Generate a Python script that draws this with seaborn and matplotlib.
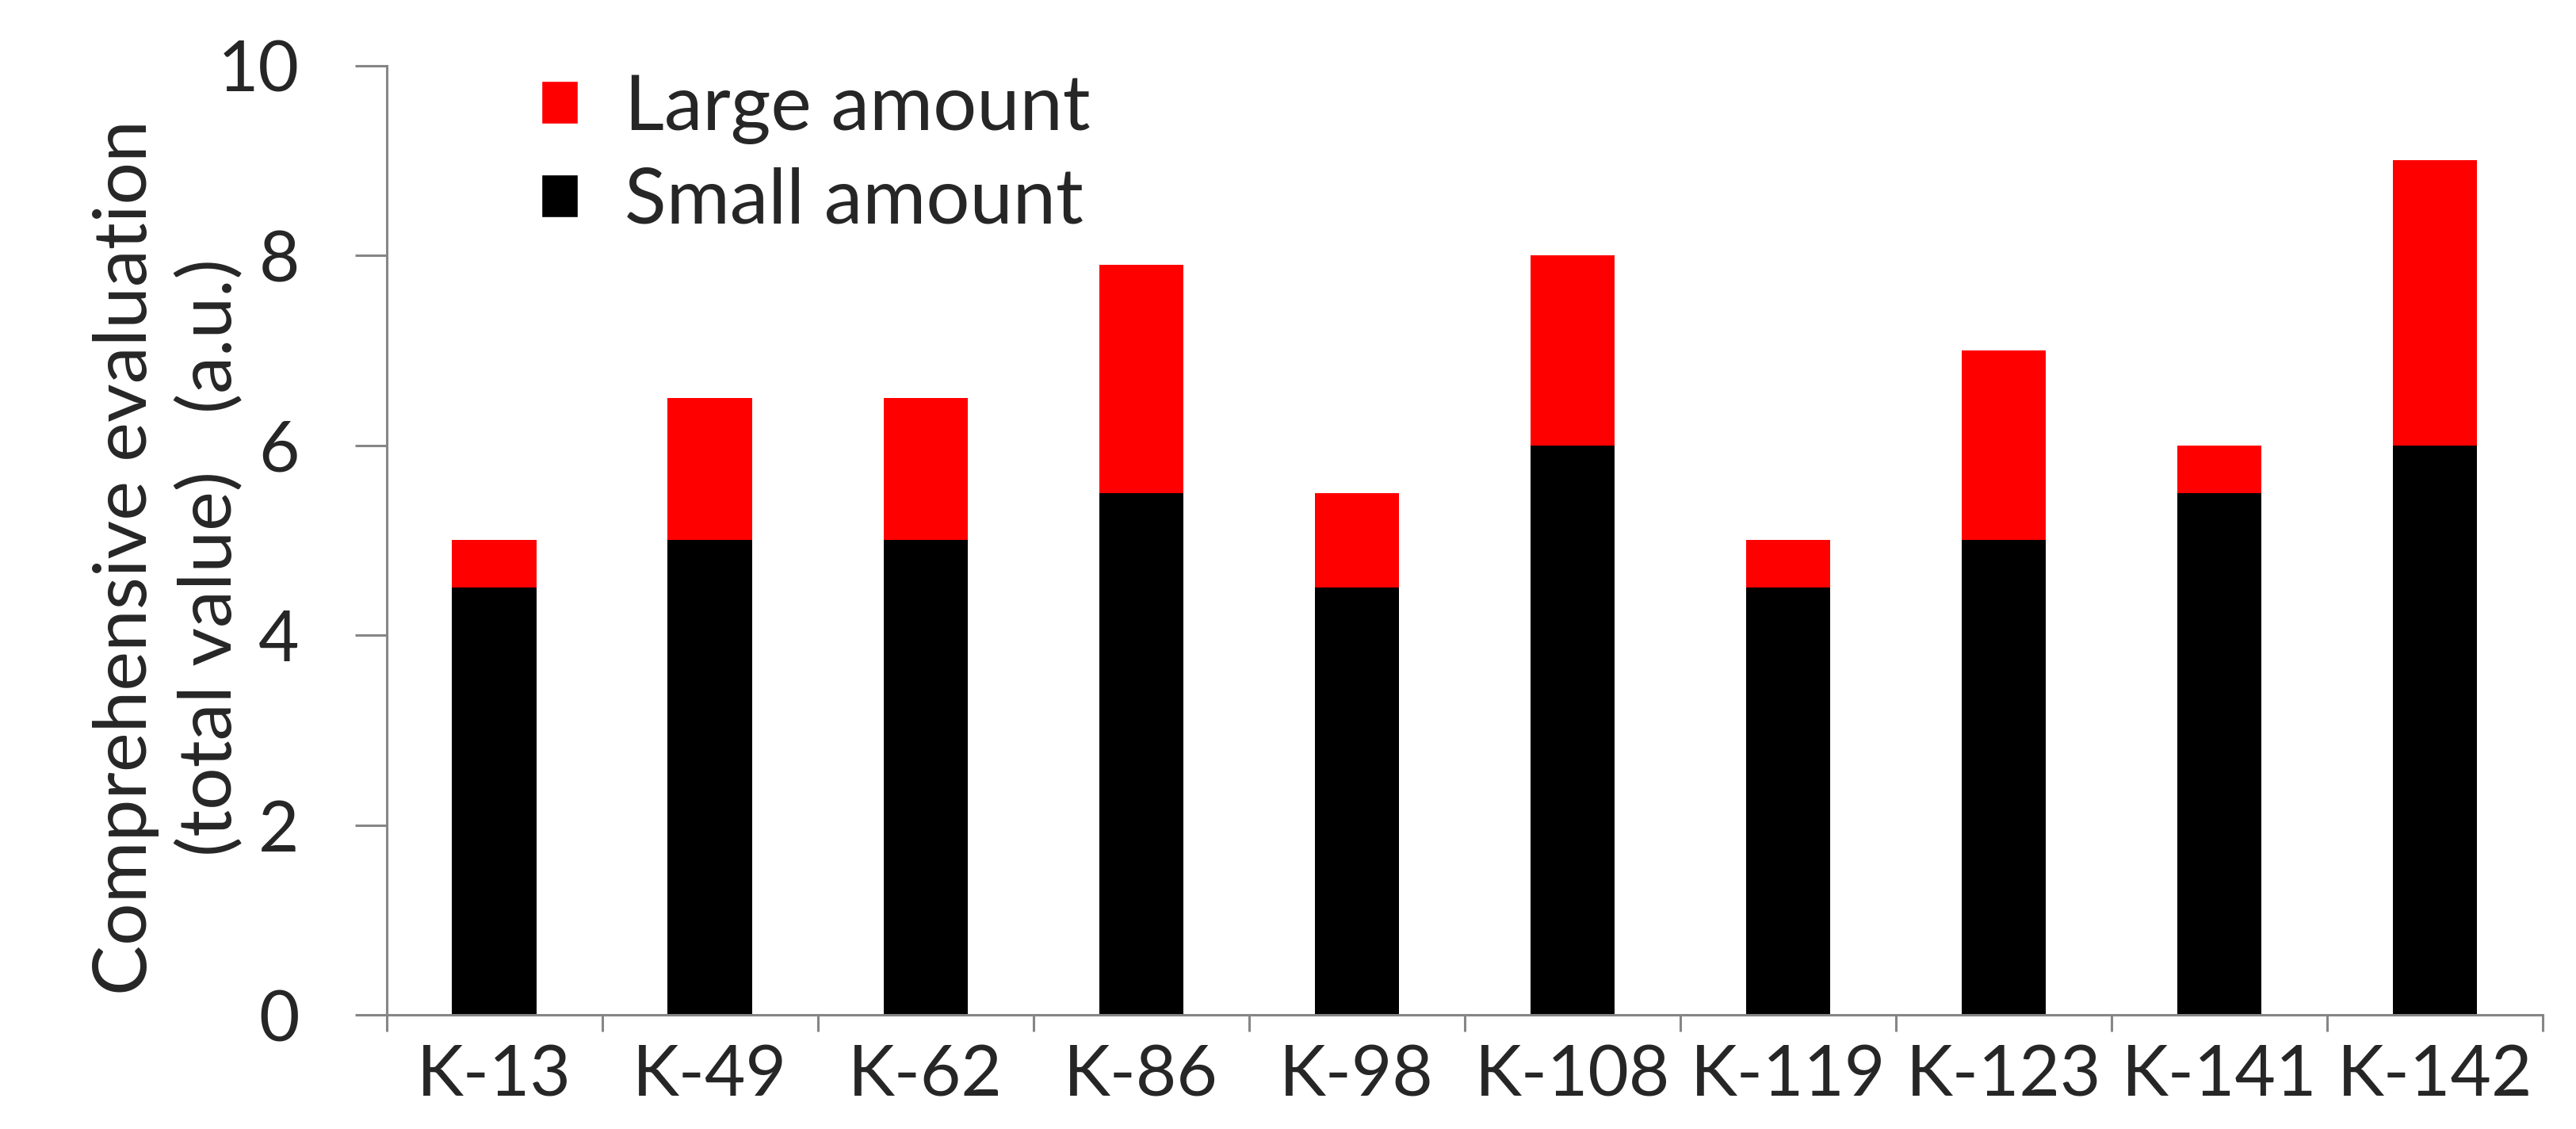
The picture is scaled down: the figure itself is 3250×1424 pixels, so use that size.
import pandas as pd
import matplotlib.pyplot as plt
import seaborn as sns
from matplotlib.patches import Patch
from matplotlib.ticker import FixedLocator

# values
categories = ["K-13", "K-49", "K-62", "K-86", "K-98", "K-108", "K-119", "K-123", "K-141", "K-142"]
small_amount = [4.5, 5.0, 5.0, 5.5, 4.5, 6.0, 4.5, 5.0, 5.5, 6.0]
large_amount = [0.5, 1.5, 1.5, 2.4, 1.0, 2.0, 0.5, 2.0, 0.5, 3.0]
y_ticks = [0, 2, 4, 6, 8, 10]

df = pd.DataFrame({"sample": categories, "small": small_amount, "large": large_amount})
df["total"] = df["small"] + df["large"]

sns.set_style("white")
plt.rcParams["font.family"] = ["Lato", "DejaVu Sans"]

grey = "#868686"
fs = 64

fig = plt.figure(figsize=(32.5, 14.24), dpi=100)
ax = fig.add_axes([0.150, 0.101, 0.837, 0.841])

# stacked look: draw total in red, then the small part in black on top of it
sns.barplot(data=df, x="sample", y="total", color="#ff0000", width=0.39,
            saturation=1, linewidth=0, ax=ax)
sns.barplot(data=df, x="sample", y="small", color="#000000", width=0.39,
            saturation=1, linewidth=0, ax=ax)

ax.set_xlim(-0.5, len(categories) - 0.5)
ax.set_ylim(0, 10)
ax.set_yticks(y_ticks)
ax.set_xlabel("")

# spines
for s in ["top", "right"]:
    ax.spines[s].set_visible(False)
for s in ["left", "bottom"]:
    ax.spines[s].set_color(grey)
    ax.spines[s].set_linewidth(2.2)

ax.tick_params(axis="y", direction="out", length=29, width=2.2, color=grey,
               labelsize=fs, pad=50, left=True)
ax.tick_params(axis="x", which="major", length=0, labelsize=fs, pad=26)
ax.xaxis.set_minor_locator(FixedLocator([i - 0.5 for i in range(len(categories) + 1)]))
ax.tick_params(axis="x", which="minor", direction="out", length=15, width=2.2,
               color=grey, bottom=True)

ax.set_ylabel("Comprehensive evaluation\n(total value)   (a.u.)", fontsize=68,
              va="center", ha="center", rotation_mode="default", linespacing=1.3)
ax.yaxis.set_label_coords(-0.101, 0.482)

handles = [Patch(facecolor="#ff0000", label="Large amount"),
           Patch(facecolor="#000000", label="Small amount")]
ax.legend(handles=handles, loc="upper left", bbox_to_anchor=(0.210, 0.935),
          bbox_transform=fig.transFigure, frameon=False, fontsize=70,
          handlelength=0.48, handleheight=0.48, handletextpad=0.6,
          labelspacing=0.3, borderpad=0, borderaxespad=0)

fig.savefig("out.png", dpi=100)
plt.close(fig)
